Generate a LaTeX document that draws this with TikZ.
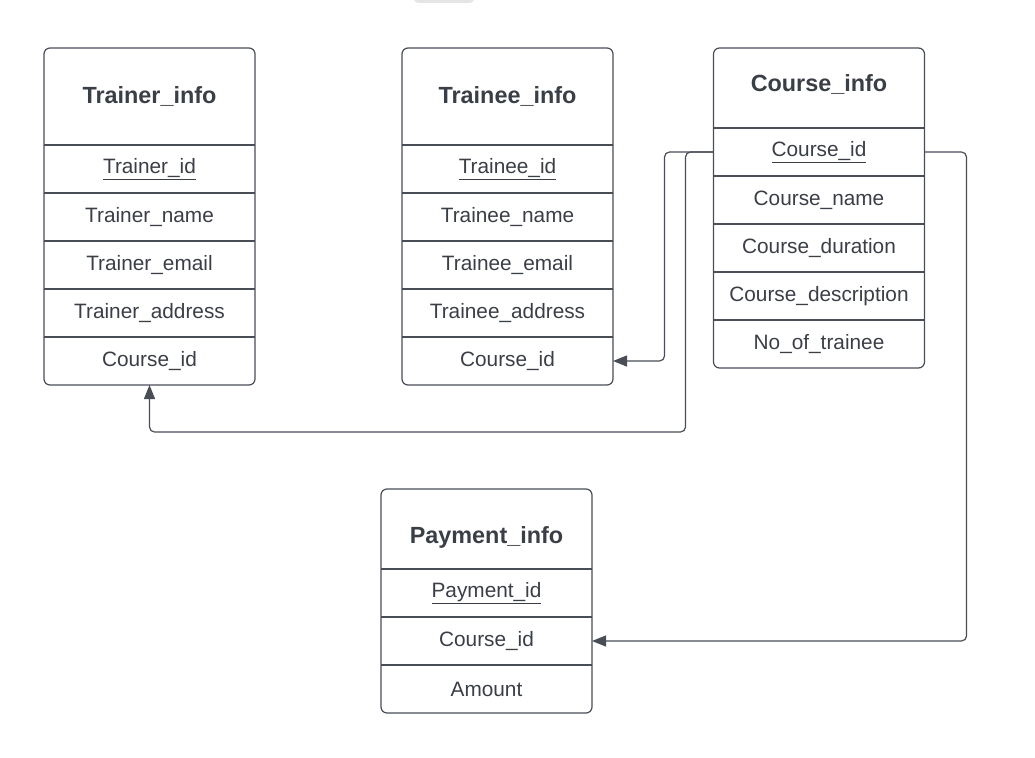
\documentclass[tikz,border=0pt]{standalone}
\usepackage{fontspec}
\setmainfont{Liberation Sans}
\usetikzlibrary{arrows.meta}
\usetikzlibrary{positioning}
\definecolor{erline}{RGB}{72,77,86}
\definecolor{ertext}{RGB}{58,62,70}
\tikzset{
  head/.style={minimum width=211pt, minimum height=#1, inner sep=0pt, outer sep=0pt,
    font=\fontsize{23.4}{25}\selectfont\bfseries, text=ertext},
  field/.style={minimum width=211pt, minimum height=48pt, inner sep=0pt, outer sep=0pt,
    font=\fontsize{20.8}{23}\selectfont, text=ertext},
  frame/.style={draw=erline, line width=1.2pt, rounded corners=6pt},
  sep/.style={draw=erline, line width=1.2pt},
  link/.style={draw=erline, line width=1.2pt, rounded corners=5pt, -{Triangle[length=14pt,width=11pt]}},
}
\begin{document}
\begin{tikzpicture}[x=1pt, y=-1pt, node distance=0pt]
	\useasboundingbox (0,0) rectangle (1035,757);
	\fill[black!10, rounded corners=6pt] (413,-12) rectangle (475,3);
	% Trainer_info
	\node[head=97pt, anchor=north] (trainer_h) at (149.5,48) {Trainer\_info};
	\node[field] (trainer_1) [below=of trainer_h] {\underline{Trainer\_id}};
	\node[field] (trainer_2) [below=of trainer_1] {Trainer\_name};
	\node[field] (trainer_3) [below=of trainer_2] {Trainer\_email};
	\node[field] (trainer_4) [below=of trainer_3] {Trainer\_address};
	\node[field] (trainer_5) [below=of trainer_4] {Course\_id};
	% Trainee_info
	\node[head=97pt, anchor=north] (trainee_h) at (507.5,48) {Trainee\_info};
	\node[field] (trainee_1) [below=of trainee_h] {\underline{Trainee\_id}};
	\node[field] (trainee_2) [below=of trainee_1] {Trainee\_name};
	\node[field] (trainee_3) [below=of trainee_2] {Trainee\_email};
	\node[field] (trainee_4) [below=of trainee_3] {Trainee\_address};
	\node[field] (trainee_5) [below=of trainee_4] {Course\_id};
	% Course_info
	\node[head=80pt, anchor=north, text depth=10pt] (course_h) at (819,48) {Course\_info};
	\node[field] (course_1) [below=of course_h] {\underline{Course\_id}};
	\node[field] (course_2) [below=of course_1] {Course\_name};
	\node[field] (course_3) [below=of course_2] {Course\_duration};
	\node[field] (course_4) [below=of course_3] {Course\_description};
	\node[field] (course_5) [below=of course_4] {No\_of\_trainee};
	% Payment_info
	\node[head=80pt, anchor=north, text height=34pt, text depth=5pt] (payment_h) at (486.5,489) {Payment\_info};
	\node[field] (payment_1) [below=of payment_h] {\underline{Payment\_id}};
	\node[field] (payment_2) [below=of payment_1] {Course\_id};
	\node[field] (payment_3) [below=of payment_2] {Amount};
	% frames
	\draw[frame] (trainer_h.north west) rectangle (trainer_5.south east);
	\draw[frame] (trainee_h.north west) rectangle (trainee_5.south east);
	\draw[frame] (course_h.north west) rectangle (course_5.south east);
	\draw[frame] (payment_h.north west) rectangle (payment_3.south east);
	\foreach \n in {trainer_h,trainer_1,trainer_2,trainer_3,trainer_4,
	                trainee_h,trainee_1,trainee_2,trainee_3,trainee_4,
	                course_h,course_1,course_2,course_3,course_4,
	                payment_h,payment_1,payment_2}
	  \draw[sep] (\n.south west) -- (\n.south east);
	% links
	\draw[link] (course_1.west) -- ++(-49,0) |- (trainee_5.east);
	\draw[link] (course_1.west) -- ++(-28,0) -- ++(0,280) -| (trainer_5.south);
	\draw[link] (course_1.east) -- ++(42,0) |- (payment_2.east);
\end{tikzpicture}
\end{document}
